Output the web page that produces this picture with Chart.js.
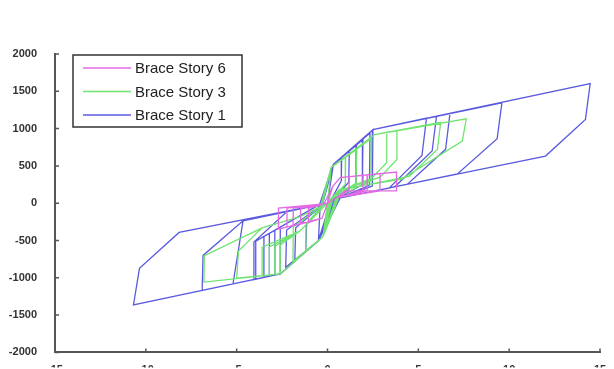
<!DOCTYPE html>
<html>
<head>
<meta charset="utf-8">
<script src="https://cdn.jsdelivr.net/npm/chart.js@4"></script>
<style>
  html, body { margin: 0; padding: 0; background: #fff; }
  #wrap { width: 614px; height: 369px; }
</style>
</head>
<body>
<div id="wrap"><canvas id="hyst"></canvas></div>
<script>
var seriesNames = ["Brace Story 6", "Brace Story 3", "Brace Story 1"];
var xTickValues = [-15, -10, -5, 0, 5, 10, 15];
var yTickValues = [-2000, -1500, -1000, -500, 0, 500, 1000, 1500, 2000];

// Brace Story 6 (displacement, force)
var story6X = [0, 0.3, 0.7, 1.2, 1.18, 0.5, 0, -0.3, -1.07, -1.05, -0.2,
    0.3, 0.7, 1.96, 1.94, 0.5, 0, -0.3, -1.5, -1.48, -0.2,
    0.3, 0.7, 2.2, 2.18, 0.5, 0, -0.3, -1.9, -1.88, -0.2,
    0.3, 0.7, 2.9, 2.88, 0.5, 0, -0.3, -2.25, -2.23, -0.2,
    0.3, 0.7, 3.8, 3.8, 0.96, 0.5, 0, -0.3, -2.7, -2.7, -0.2, 0];
var story6Y = [0, 230, 343, 355, 170, 76, 0, -200, -260, -70, -10,
    230, 343, 375, 164, 76, 0, -200, -280, -70, -10,
    230, 343, 380, 164, 76, 0, -200, -300, -67, -10,
    230, 343, 397, 164, 76, 0, -200, -320, -67, -10,
    230, 343, 417, 164, 164, 76, 0, -200, -347, -67, -10, 0];

// Brace Story 3
var story3X = [0, 0.2, 1.0, 0.98, 0.2, -0.25, -1.2, -1.18, -0.3,
    0.2, 1.6, 1.58, 0.3, -0.25, -1.9, -1.88, -0.4,
    0.2, 2.43, 2.4, 0.5, -0.25, -2.6, -2.6, -1.5, 0,
    0.2, 2.6, 3.26, 3.26, 2.4, 0.6, -0.25, -2.6, -2.9, -2.9, -1.5, 0,
    0.2, 2.6, 3.82, 3.82, 2.9, 0.7, -0.25, -2.6, -3.2, -3.2, -1.5, 0,
    -0.25, -2.6, -3.6, -3.6, -1.5, 0,
    0.2, 2.6, 6.23, 6.05, 4.5, 0.8, -0.25, -2.6, -5.0, -4.9, -3.6, -1.5, 0,
    0.2, 2.6, 7.64, 7.42, 4.09, 0.66, 0.1, -0.25, -2.6, -6.8, -6.78, -3.6, -1.5, 0];
var story3Y = [0, 480, 620, 250, 60, -450, -640, -280, -40,
    480, 720, 270, 70, -450, -780, -320, -50,
    480, 870, 300, 80, -450, -947, -560, -370, 0,
    480, 920, 950, 543, 330, 160, -450, -947, -955, -575, -370, 0,
    480, 920, 975, 587, 350, 170, -450, -947, -962, -585, -370, 0,
    -450, -947, -972, -590, -370, 0,
    480, 920, 1085, 720, 360, 180, -450, -947, -1005, -640, -330, -180, 0,
    480, 920, 1132, 833, 323, 187, 40, -450, -947, -1057, -703, -330, -180, 0];

// Brace Story 1
var story1X = [0, 0.32, 0.78, 0.76, 0.2, -0.5, -1.2, -1.15, -0.3,
    0.32, 1.2, 1.17, 0.3, -0.5, -1.8, -1.75, -0.4,
    0.32, 1.6, 1.57, 0.4, -0.5, -2.3, -2.25, -0.5,
    0.32, 1.95, 1.92, 0.5, -0.5, -2.6, -2.6, -0.4,
    0.32, 2.34, 2.31, 0.6, -0.5, -2.6, -2.9, -2.9, -0.4,
    0.32, 2.5, 2.47, 0.7, -0.5, -2.6, -3.2, -3.2, -0.4,
    -0.5, -2.6, -3.5, -3.5, -0.4,
    -0.5, -2.6, -3.95, -3.95, -0.4,
    0.32, 2.5, 5.45, 5.2, 3.4, 0.3, -0.5, -2.6, -5.2, -4.65, 0,
    0.32, 2.5, 6.0, 5.76, 3.7, 0.3, -0.5, -2.6, -6.9, -6.85, -4.6, 0,
    0.32, 2.5, 6.74, 6.5, 4.4, 0.3, -0.5, -2.6, -4.1, -4.05, -2.2, 0,
    0.32, 2.5, 9.6, 9.34, 7.15, 0.3, -0.5, -2.6, -10.68, -10.35, -8.17, 0,
    0.32, 2.5, 14.46, 14.2, 12.0, 0.3];
var story1Y = [0, 520, 610, 300, 45, -503, -640, -280, -40,
    520, 695, 280, 50, -503, -760, -330, -50,
    520, 780, 260, 55, -503, -860, -360, -60,
    520, 855, 250, 60, -503, -949, -321, -13,
    520, 940, 240, 65, -503, -949, -964, -363, -13,
    520, 985, 230, 70, -503, -949, -979, -405, -13,
    -503, -949, -995, -447, -13,
    -503, -949, -1018, -510, -13,
    520, 985, 1140, 640, 205, 50, -503, -949, -1080, -236, 0,
    520, 985, 1165, 700, 220, 50, -503, -949, -1168, -700, -225, 0,
    520, 985, 1203, 722, 255, 50, -503, -949, -1026, -520, -105, 0,
    520, 985, 1346, 865, 392, 50, -503, -949, -1364, -873, -392, 0,
    520, 985, 1604, 1123, 632, 50];

var lineColors = ["#e46ae4", "#6fe46f", "#5a5ae0"];

function toPoints(xs, ys) {
    var pts = [];
    for (var i = 0; i < xs.length; i++) pts.push({x: xs[i], y: ys[i]});
    return pts;
}

// legend box drawn inside the plot, like the original figure
var boxLegend = {
    id: "boxLegend",
    afterDraw: function (chart) {
        var ctx = chart.ctx;
        ctx.save();
        ctx.fillStyle = "#fff";
        ctx.fillRect(73, 55, 169, 72);
        ctx.strokeStyle = "#333";
        ctx.lineWidth = 1.5;
        ctx.strokeRect(73, 55, 169, 72);
        ctx.font = "15px 'Liberation Sans', Arial, sans-serif";
        ctx.textBaseline = "middle";
        for (var i = 0; i < seriesNames.length; i++) {
            var y = 68 + i * 23.5;
            ctx.strokeStyle = lineColors[i];
            ctx.lineWidth = 1.5;
            ctx.beginPath();
            ctx.moveTo(83, y);
            ctx.lineTo(131, y);
            ctx.stroke();
            ctx.fillStyle = "#222";
            ctx.fillText(seriesNames[i], 135, y + 1);
        }
        ctx.restore();
    }
};

// short tick marks pointing into the plot
var innerTicks = {
    id: "innerTicks",
    afterDraw: function (chart) {
        var ctx = chart.ctx, xs = chart.scales.x, ys = chart.scales.y;
        ctx.save();
        ctx.strokeStyle = "#555";
        ctx.lineWidth = 1.5;
        ctx.beginPath();
        xTickValues.forEach(function (v) {
            var px = xs.getPixelForValue(v);
            ctx.moveTo(px, ys.bottom);
            ctx.lineTo(px, ys.bottom - 4);
        });
        yTickValues.forEach(function (v) {
            var py = ys.getPixelForValue(v);
            ctx.moveTo(xs.left, py);
            ctx.lineTo(xs.left + 4, py);
        });
        ctx.stroke();
        ctx.restore();
    }
};

var tickFont = {family: "'Liberation Sans', Arial, sans-serif", size: 11, weight: "bold"};

new Chart(document.getElementById("hyst"), {
    type: "scatter",
    data: {
        datasets: [
            {label: seriesNames[0], data: toPoints(story6X, story6Y), borderColor: lineColors[0]},
            {label: seriesNames[1], data: toPoints(story3X, story3Y), borderColor: lineColors[1]},
            {label: seriesNames[2], data: toPoints(story1X, story1Y), borderColor: lineColors[2]}
        ]
    },
    options: {
        responsive: true,
        maintainAspectRatio: false,
        animation: false,
        showLine: true,
        elements: {
            point: {radius: 0, hoverRadius: 0},
            line: {borderWidth: 1.3, tension: 0}
        },
        layout: {padding: {left: 0, right: 14, top: 54, bottom: 0}},
        plugins: {
            legend: {display: false},
            tooltip: {enabled: false}
        },
        scales: {
            x: {
                type: "linear",
                min: -15,
                max: 15,
                afterBuildTicks: function (s) { s.ticks = xTickValues.map(function (v) { return {value: v}; }); },
                afterFit: function (s) { s.height = 15; },
                grid: {display: false},
                border: {display: true, color: "#555", width: 2},
                ticks: {font: tickFont, color: "#333", padding: 3, maxRotation: 0,
                    callback: function (v) { return String(v); }}
            },
            y: {
                type: "linear",
                min: -2000,
                max: 2000,
                afterBuildTicks: function (s) { s.ticks = yTickValues.map(function (v) { return {value: v}; }); },
                afterFit: function (s) { s.width = 55; },
                grid: {display: false},
                border: {display: true, color: "#555", width: 2},
                ticks: {font: tickFont, color: "#333", padding: 10,
                    callback: function (v) { return String(v); }}
            }
        }
    },
    plugins: [innerTicks, boxLegend]
});
</script>
</body>
</html>
